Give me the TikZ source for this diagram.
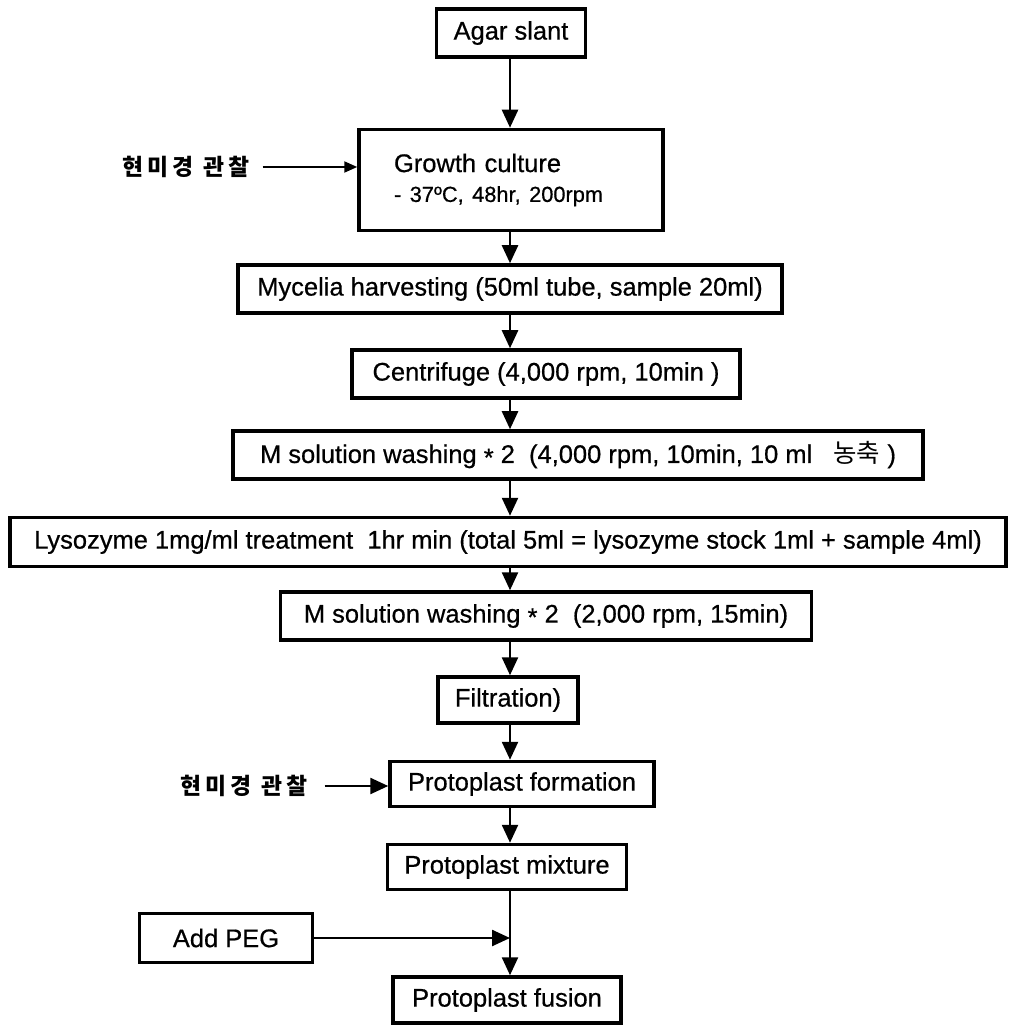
\documentclass[tikz,border=0pt]{standalone}
\usepackage{fontspec}
\setmainfont{Liberation Sans}[FakeBold=0.6]
\newfontfamily\kr{Noto Sans CJK KR}
\usetikzlibrary{arrows.meta}
\tikzset{
	box/.style={draw,line width=2pt,inner sep=0pt,font=\fontsize{14.5}{17}\selectfont},
	boxsize/.style 2 args={minimum width=#1*0.02cm,minimum height=#2*0.02cm},
	obs/.style={inner sep=0pt,font=\kr\bfseries\fontsize{13}{15}\selectfont\addfontfeature{LetterSpace=18}},
	flow/.style={line width=1.4pt,-{Triangle[length=0.36cm,width=0.32cm]}}
}
\begin{document}
\begin{tikzpicture}[x=0.02cm,y=-0.02cm]
	\useasboundingbox (0,0) rectangle (1008,1030);
	% main column
	\node[box,boxsize={149}{48}] (agar) at (511,33) {Agar slant};
	\node[box,boxsize={304}{101},text width=4.68cm,align=left] (growth) at (511,180)
		{Growth culture\\{\fontsize{12.4}{14}\selectfont - 37ºC, 48hr, 200rpm}};
	\node[box,boxsize={544}{48}] (myc) at (510,289) {Mycelia harvesting (50ml tube, sample 20ml)};
	\node[box,boxsize={388}{48}] (cent) at (546,374) {Centrifuge (4,000 rpm, 10min )};
	\node[box,boxsize={690}{48}] (msol1) at (578,455)
		{M solution washing \raisebox{-0.25ex}{*} 2\ \ (4,000 rpm, 10min, 10 ml\ \ \ {\kr 농축} )};
	\node[box,boxsize={996}{49}] (lyso) at (508,542)
		{Lysozyme 1mg/ml treatment\ \ 1hr min (total 5ml = lysozyme stock 1ml + sample 4ml)};
	\node[box,boxsize={531}{48}] (msol2) at (546,616)
		{M solution washing \raisebox{-0.25ex}{*} 2\ \ (2,000 rpm, 15min)};
	\node[box,boxsize={140}{46}] (filt) at (508,700) {Filtration)};
	\node[box,boxsize={264}{45}] (pform) at (522,784) {Protoplast formation};
	\node[box,boxsize={239}{45}] (pmix) at (507,867) {Protoplast mixture};
	\node[box,boxsize={228}{46}] (pfus) at (507,1000) {Protoplast fusion};
	% side inputs
	\node[box,boxsize={173}{49}] (peg) at (226,938) {Add PEG};
	\node[obs] (obs1) at (186,167) {현미경 관찰};
	\node[obs] (obs2) at (244,786) {현미경 관찰};
	% arrows
	\coordinate (col) at (510,0);
	\foreach \a/\b in {agar/growth,growth/myc,myc/cent,cent/msol1,msol1/lyso,
		lyso/msol2,msol2/filt,filt/pform,pform/pmix,pmix/pfus}
		\draw[flow] (\a.south -| col) -- (\b.north -| col);
	\draw[flow] (peg.east) -- (peg.east -| col);
	\draw[line width=1.2pt,-{Triangle[length=0.26cm,width=0.22cm]},shorten <=0.26cm]
		(obs1.east) -- (obs1.east -| growth.west);
	\draw[flow,shorten <=0.34cm] (obs2.east) -- (obs2.east -| pform.west);
\end{tikzpicture}
\end{document}
